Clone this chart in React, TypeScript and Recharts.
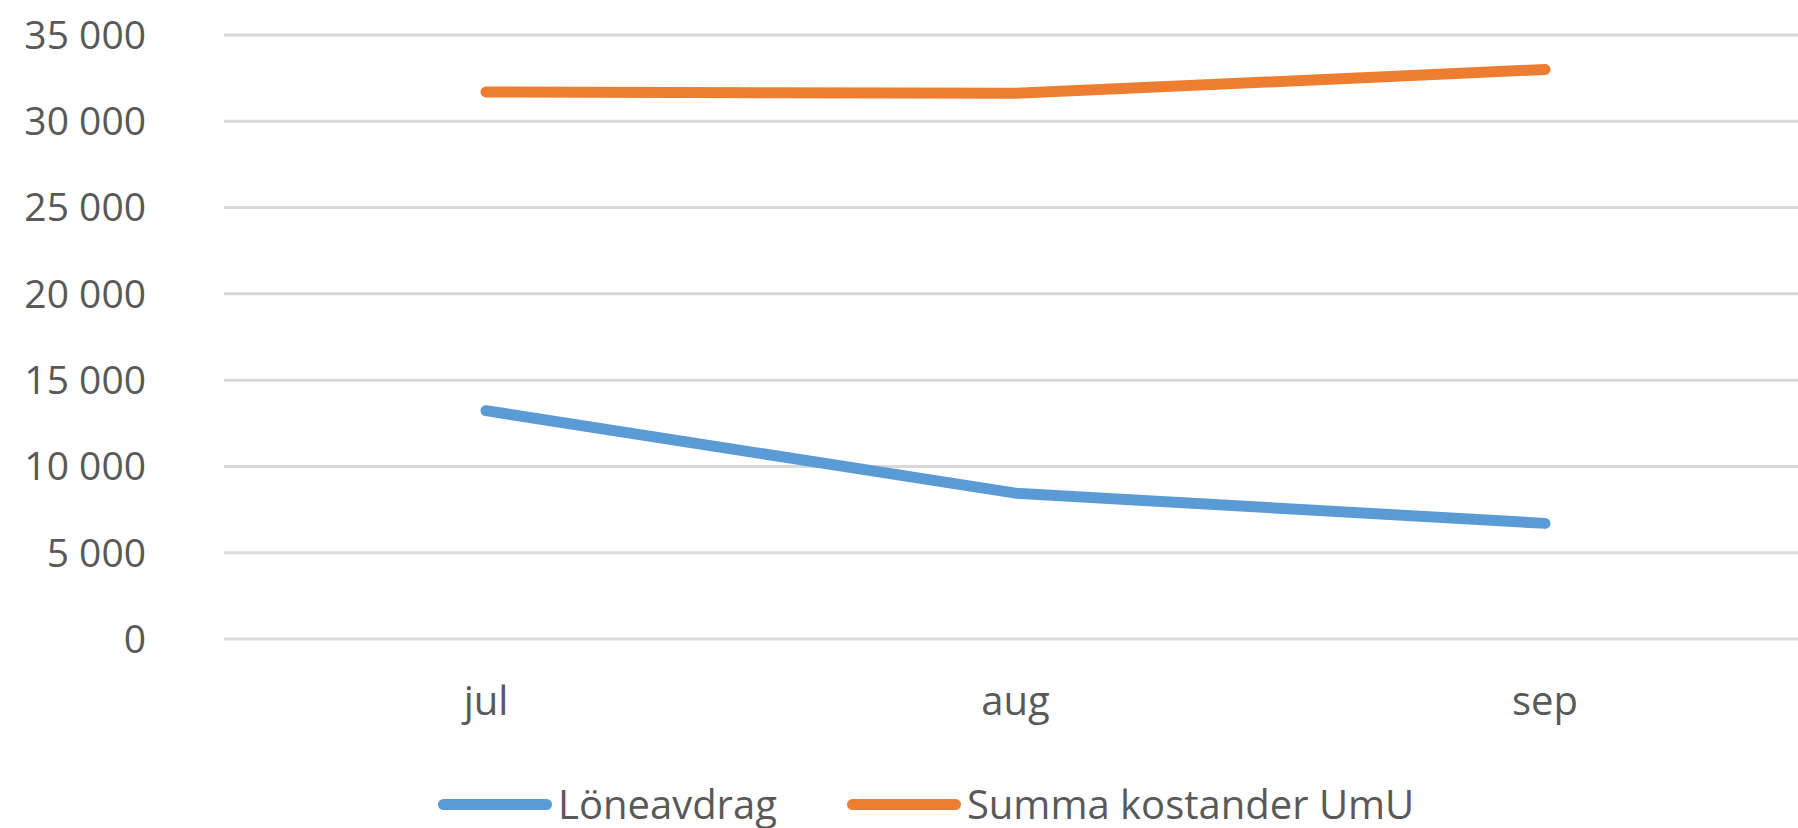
import { CartesianGrid, Legend, Line, LineChart, XAxis, YAxis } from "recharts";

const months = ["jul", "aug", "sep"];
const loneavdrag = [13230, 8450, 6700];
const summaKostander = [31700, 31620, 33000];
const yTicks = [0, 5000, 10000, 15000, 20000, 25000, 30000, 35000];

const BLUE = "#5B9BD5";
const ORANGE = "#ED7D31";
const TEXT = "#595959";
const FONT = "'Open Sans', 'DejaVu Sans', sans-serif";

const data = months.map((month, i) => ({
  month,
  Löneavdrag: loneavdrag[i],
  "Summa kostander UmU": summaKostander[i],
}));

// "35000" -> "35 000" (svensk tusentalsavgränsare)
function formatThousands(value: number): string {
  return String(value).replace(/\B(?=(\d{3})+(?!\d))/g, " ");
}

function LegendContent({ payload }: { payload?: Array<{ value: string; color?: string }> }) {
  if (!payload) return null;
  return (
    <div style={{ display: "flex", alignItems: "center", fontFamily: FONT, fontSize: 40, lineHeight: "40px", color: TEXT }}>
      {payload.map((entry, i) => (
        <div key={entry.value} style={{ display: "flex", alignItems: "center", marginLeft: i === 0 ? 0 : 70 }}>
          <span style={{ display: "inline-block", width: 114, height: 11, borderRadius: 6, background: entry.color, marginRight: 6 }} />
          <span>{entry.value}</span>
        </div>
      ))}
    </div>
  );
}

export default function App() {
  return (
    <div style={{ width: 1798, height: 828, background: "#fff" }}>
      <style>{`body { margin: 0; }`}</style>
      <LineChart width={1798} height={828} data={data} margin={{ top: 35, right: 0, left: 0, bottom: 129 }}>
        <CartesianGrid vertical={false} stroke="#D9D9D9" strokeWidth={3} />
        <XAxis
          dataKey="month"
          axisLine={false}
          tickLine={false}
          tickSize={0}
          tickMargin={48}
          height={60}
          padding={{ left: 262, right: 253 }}
          tick={{ fontSize: 40, fill: TEXT, fontFamily: FONT }}
        />
        <YAxis
          domain={[0, 35000]}
          ticks={yTicks}
          axisLine={false}
          tickLine={false}
          tickSize={0}
          tickMargin={78}
          width={224}
          tickFormatter={formatThousands}
          tick={{ fontSize: 39, fill: TEXT, fontFamily: FONT }}
        />
        <Legend
          verticalAlign="middle"
          layout="horizontal"
          content={<LegendContent />}
          wrapperStyle={{ top: 784, left: 438, width: "auto" }}
        />
        <Line
          type="linear"
          dataKey="Löneavdrag"
          stroke={BLUE}
          strokeWidth={11}
          strokeLinecap="round"
          strokeLinejoin="round"
          dot={false}
          activeDot={false}
          isAnimationActive={false}
        />
        <Line
          type="linear"
          dataKey="Summa kostander UmU"
          stroke={ORANGE}
          strokeWidth={11}
          strokeLinecap="round"
          strokeLinejoin="round"
          dot={false}
          activeDot={false}
          isAnimationActive={false}
        />
      </LineChart>
    </div>
  );
}
